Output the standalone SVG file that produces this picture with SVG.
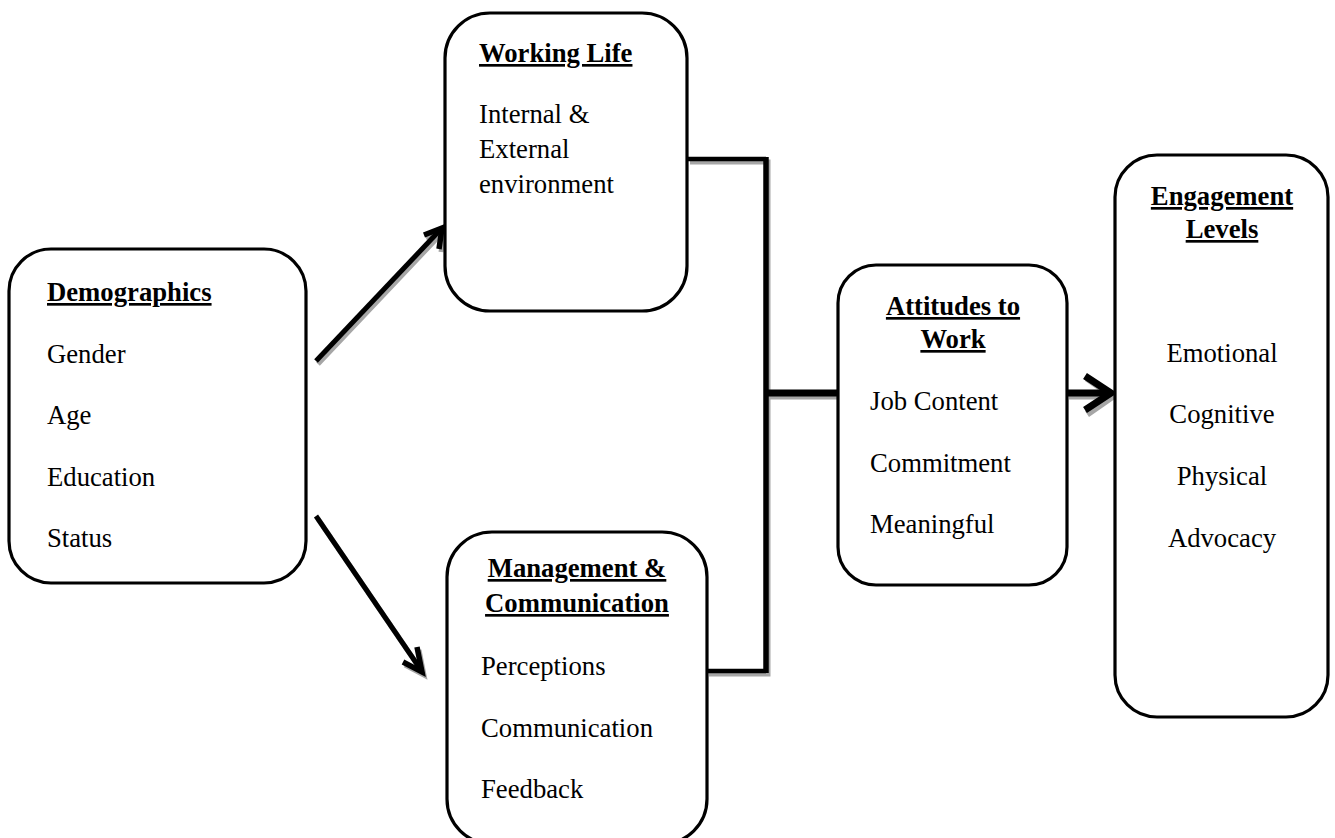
<svg xmlns="http://www.w3.org/2000/svg" width="1335" height="838" viewBox="0 0 1335 838">
<style>
.box{fill:#fff;stroke:#000;stroke-width:3.2}
.t{font-family:'Liberation Serif','Times New Roman','DejaVu Serif',serif;font-size:26.7px;fill:#000}
.h{font-weight:bold;text-decoration:underline}
.c{text-anchor:middle}
.ln{fill:none;stroke:#000;stroke-linecap:butt;stroke-linejoin:miter}
.sh{fill:none;stroke:#a6a6a6;stroke-linejoin:miter}
</style>
<rect width="1335" height="838" fill="#fff"/>
<g id="connectors">
  <g transform="translate(2,3)">
    <path class="sh" stroke-width="5" d="M316,361 L441,229 M424,235 L442,228 L439,249"/>
    <path class="sh" stroke-width="5" d="M316,516 L421,670 M417,647 L422,672 L403,662"/>
    <path class="sh" stroke-width="5" d="M688,159 H766 V671 H707"/>
    <path class="sh" stroke-width="7" d="M766,393 H838"/>
    <path class="sh" stroke-width="7" d="M1067,393 H1110 M1085,375 L1111,393 L1085,411"/>
  </g>
  <path class="ln" stroke-width="5" d="M316,361 L441,229"/>
  <path class="ln" stroke-width="5.5" stroke-linecap="round" d="M424,235 L442,228 L439,249"/>
  <path class="ln" stroke-width="5" d="M316,516 L421,670"/>
  <path class="ln" stroke-width="5.5" stroke-linecap="round" d="M417,647 L422,672 L403,662"/>
  <path class="ln" stroke-width="4.5" d="M688,159 H766"/>
  <path class="ln" stroke-width="5.5" d="M766,157 V673"/>
  <path class="ln" stroke-width="4.5" d="M707,671 H766"/>
  <path class="ln" stroke-width="7" d="M766,393 H838"/>
  <path class="ln" stroke-width="7" d="M1067,393 H1108"/>
  <path class="ln" stroke-width="7" stroke-linecap="round" d="M1085,376 L1111,393 L1085,410"/>
</g>
<g id="demographics">
  <rect class="box" x="9" y="249" width="297" height="334" rx="42"/>
  <text class="t h" font-family="Liberation Serif, serif" x="47" y="301">Demographics</text>
  <text class="t" font-family="Liberation Serif, serif" x="47" y="363">Gender</text>
  <text class="t" font-family="Liberation Serif, serif" x="47" y="424">Age</text>
  <text class="t" font-family="Liberation Serif, serif" x="47" y="486">Education</text>
  <text class="t" font-family="Liberation Serif, serif" x="47" y="547">Status</text>
</g>
<g id="working-life">
  <rect class="box" x="445" y="13" width="242" height="298" rx="45"/>
  <text class="t h" x="479" y="62">Working Life</text>
  <text class="t" x="479" y="123">Internal &amp;</text>
  <text class="t" x="479" y="158">External</text>
  <text class="t" x="479" y="193">environment</text>
</g>
<g id="management">
  <rect class="box" x="447" y="532" width="260" height="312" rx="45"/>
  <text class="t h c" x="577" y="577">Management &amp;</text>
  <text class="t h c" x="577" y="612">Communication</text>
  <text class="t" x="481" y="675">Perceptions</text>
  <text class="t" x="481" y="737">Communication</text>
  <text class="t" x="481" y="798">Feedback</text>
</g>
<g id="attitudes">
  <rect class="box" x="838" y="265" width="229" height="320" rx="38"/>
  <text class="t h c" x="953" y="315">Attitudes to</text>
  <text class="t h c" x="953" y="348">Work</text>
  <text class="t" x="870" y="410">Job Content</text>
  <text class="t" x="870" y="472">Commitment</text>
  <text class="t" x="870" y="533">Meaningful</text>
</g>
<g id="engagement">
  <rect class="box" x="1115" y="155" width="213" height="562" rx="42"/>
  <text class="t h c" x="1222" y="205">Engagement</text>
  <text class="t h c" x="1222" y="238">Levels</text>
  <text class="t c" x="1222" y="362">Emotional</text>
  <text class="t c" x="1222" y="423">Cognitive</text>
  <text class="t c" x="1222" y="485">Physical</text>
  <text class="t c" x="1222" y="547">Advocacy</text>
</g>
</svg>
